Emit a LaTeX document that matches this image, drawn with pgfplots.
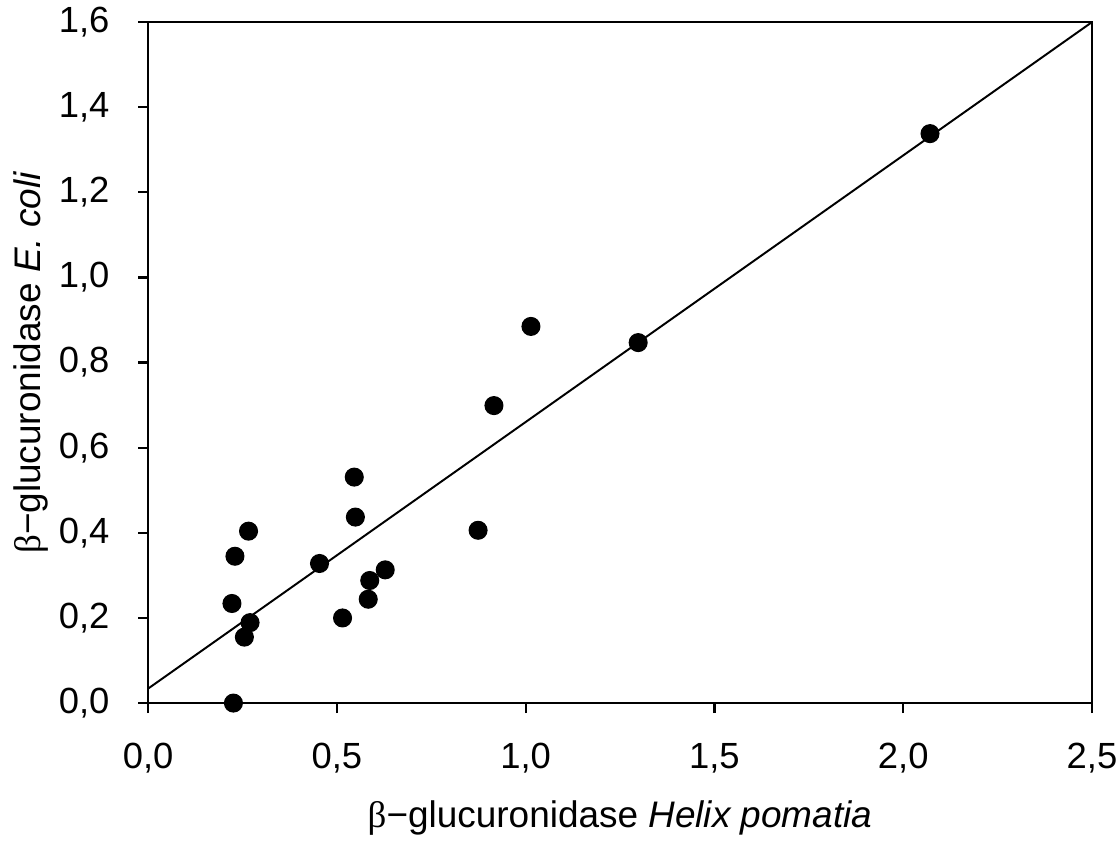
\documentclass[border=0pt]{standalone}
\usepackage{pgfplots}
\pgfplotsset{compat=1.18}
\usepackage{fontspec}
\setmainfont{Liberation Sans}
\newfontfamily\serifgr{Liberation Serif}
\begin{document}
\begin{tikzpicture}
\begin{axis}[
  scale only axis,
  width=337.1pt, height=243.2pt,
  at={(0,0)}, anchor=south west,
  xmin=0, xmax=2.5, ymin=0, ymax=1.6,
  axis line style={line width=0.8pt},
  xtick={0,0.5,1,1.5,2,2.5},
  ytick={0,0.2,0.4,0.6,0.8,1.0,1.2,1.4,1.6},
  xtick pos=bottom, ytick pos=left,
  tick align=outside,
  major tick length=3.6pt,
  tick style={line width=0.8pt, black},
  /pgf/number format/assume math mode=true,
  /pgf/number format/use comma,
  /pgf/number format/fixed,
  /pgf/number format/fixed zerofill,
  /pgf/number format/precision=1,
  ticklabel style={font=\fontsize{13pt}{15pt}\selectfont},
  label style={font=\fontsize{13.2pt}{15pt}\selectfont},
  xticklabel style={yshift=-7.3pt},
  yticklabel style={xshift=-6.7pt},
  xlabel={{\serifgr β}−glucuronidase \textit{Helix pomatia}},
  ylabel={{\serifgr β}−glucuronidase \textit{E. coli}},
  xlabel style={at={(axis description cs:0.5,-0.1826)}, anchor=base},
  ylabel style={at={(axis description cs:-0.1145,0.5)}, rotate=0, anchor=base},
  clip=false,
]
\addplot[black, line width=0.7pt] coordinates {(0,0.034) (2.5,1.6)};
\addplot[only marks, mark=*, mark size=3.2pt, black] coordinates {
(0.226,0.000)
(0.222,0.234)
(0.230,0.345)
(0.266,0.404)
(0.270,0.189)
(0.255,0.155)
(0.454,0.328)
(0.515,0.200)
(0.546,0.531)
(0.549,0.437)
(0.587,0.288)
(0.583,0.244)
(0.628,0.313)
(0.874,0.406)
(0.916,0.699)
(1.014,0.885)
(1.298,0.847)
(2.071,1.338)
};
\end{axis}
\pgfresetboundingbox
\path[use as bounding box] (-52.9pt,-49.3pt) rectangle (347.1pt,251.1pt);
\end{tikzpicture}
\end{document}
